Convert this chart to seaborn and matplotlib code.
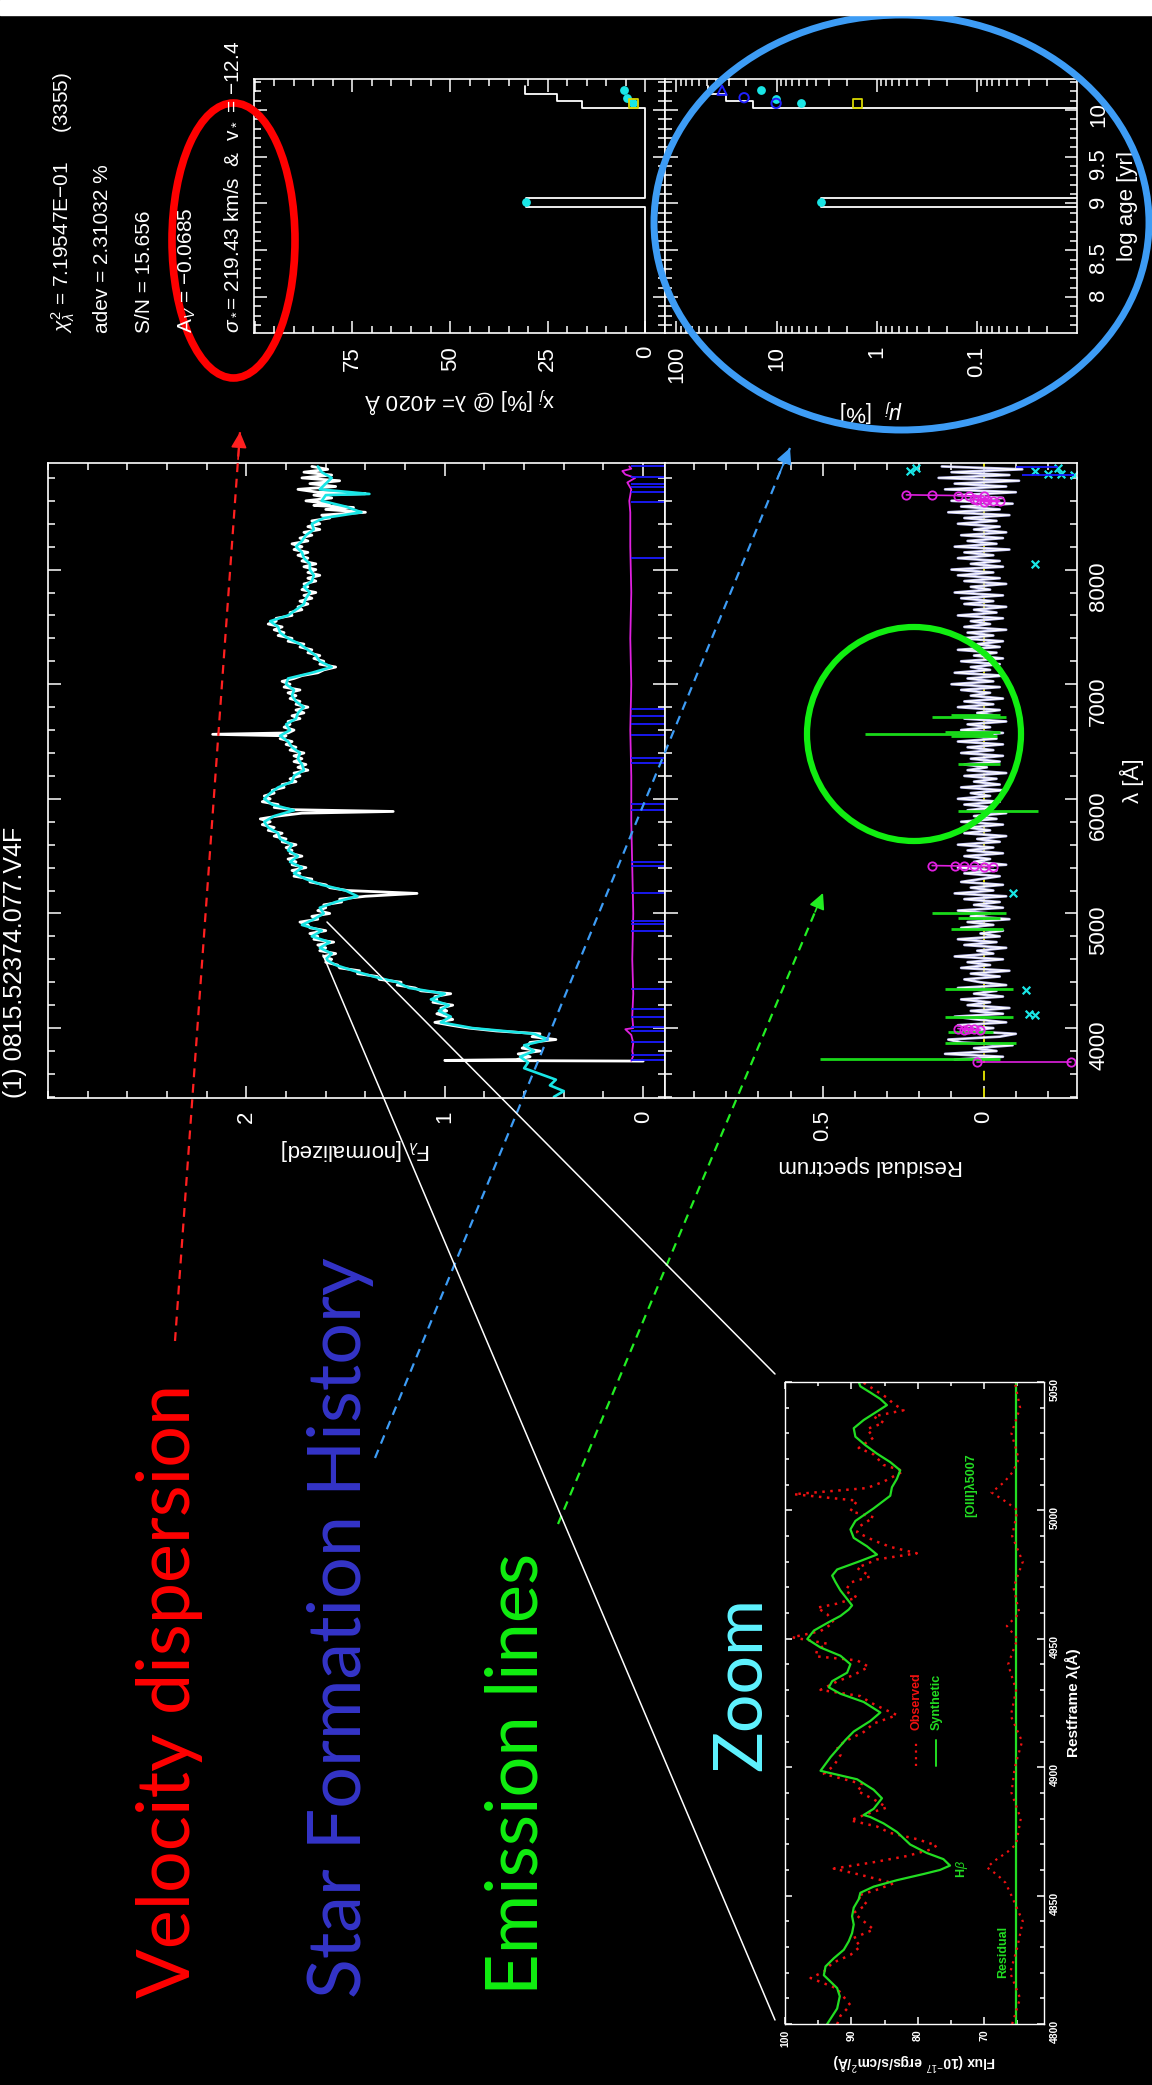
import matplotlib
matplotlib.use('Agg')
import matplotlib.pyplot as plt
import seaborn as sns
from matplotlib.patches import Ellipse, Rectangle
from matplotlib.ticker import MultipleLocator, FixedLocator, FuncFormatter, LogLocator, NullFormatter

# figure size in pixels (everything below is laid out in pixel units)
W, H = 1152, 2085

# ---------------- data ----------------
# synthetic (model) spectrum, cyan
model_pts = [(3400, 0.45), (3450, 0.40), (3500, 0.47), (3550, 0.44), (3600, 0.52), (3650, 0.60),
             (3700, 0.58), (3750, 0.62), (3800, 0.55), (3850, 0.60), (3900, 0.48), (3950, 0.55),
             (4000, 0.86), (4050, 1.02), (4100, 0.97), (4150, 1.03), (4200, 0.98), (4250, 1.07),
             (4300, 1.00), (4350, 1.18), (4400, 1.24), (4450, 1.36), (4500, 1.46), (4550, 1.55),
             (4600, 1.60), (4650, 1.57), (4700, 1.63), (4750, 1.58), (4800, 1.67), (4850, 1.62),
             (4900, 1.72), (4950, 1.66), (5000, 1.61), (5050, 1.63), (5100, 1.55), (5150, 1.44),
             (5200, 1.50), (5250, 1.62), (5300, 1.70), (5350, 1.76), (5400, 1.72), (5450, 1.78),
             (5500, 1.74), (5550, 1.79), (5600, 1.77), (5650, 1.83), (5700, 1.84), (5750, 1.89),
             (5800, 1.91), (5850, 1.86), (5900, 1.76), (5950, 1.87), (6000, 1.91), (6050, 1.88),
             (6100, 1.84), (6150, 1.77), (6200, 1.76), (6250, 1.71), (6300, 1.72), (6350, 1.74),
             (6400, 1.73), (6450, 1.77), (6500, 1.79), (6550, 1.83), (6600, 1.78), (6650, 1.80),
             (6700, 1.75), (6750, 1.74), (6800, 1.71), (6850, 1.75), (6900, 1.77), (6950, 1.76),
             (7000, 1.80), (7050, 1.79), (7100, 1.67), (7150, 1.57), (7200, 1.63), (7250, 1.65),
             (7300, 1.69), (7350, 1.73), (7400, 1.79), (7450, 1.83), (7500, 1.84), (7550, 1.88),
             (7600, 1.79), (7650, 1.75), (7700, 1.71), (7750, 1.70), (7800, 1.68), (7850, 1.71),
             (7900, 1.67), (7950, 1.66), (8000, 1.68), (8050, 1.68), (8100, 1.71), (8150, 1.72),
             (8200, 1.75), (8250, 1.72), (8300, 1.70), (8350, 1.66), (8400, 1.67), (8450, 1.61),
             (8500, 1.42), (8550, 1.50), (8600, 1.62), (8650, 1.60), (8660, 1.38), (8700, 1.63),
             (8750, 1.60), (8800, 1.57), (8850, 1.62), (8900, 1.64)]

# observed spectrum, white
obs_pts = [(3712, 0.00), (3718, 1.00), (3725, 0.64), (3750, 0.57), (3775, 0.63), (3800, 0.52),
           (3825, 0.61), (3850, 0.58), (3875, 0.57), (3900, 0.44), (3925, 0.56), (3950, 0.52),
           (3975, 0.74), (4000, 0.88), (4025, 0.97), (4050, 1.05), (4075, 0.96), (4100, 0.99),
           (4125, 1.04), (4150, 0.99), (4175, 1.02), (4200, 0.96), (4225, 1.06), (4250, 1.04),
           (4275, 1.05), (4300, 0.97), (4325, 1.12), (4350, 1.15), (4375, 1.24), (4400, 1.22),
           (4425, 1.33), (4450, 1.34), (4475, 1.44), (4500, 1.43), (4525, 1.53), (4550, 1.54),
           (4575, 1.60), (4600, 1.57), (4625, 1.61), (4650, 1.55), (4675, 1.63), (4700, 1.60),
           (4725, 1.64), (4750, 1.56), (4775, 1.66), (4800, 1.64), (4825, 1.68), (4850, 1.60),
           (4875, 1.68), (4900, 1.69), (4925, 1.73), (4950, 1.64), (4975, 1.67), (5000, 1.58),
           (5025, 1.64), (5050, 1.60), (5075, 1.61), (5100, 1.52), (5125, 1.53), (5150, 1.40),
           (5175, 1.14), (5200, 1.49), (5225, 1.58), (5250, 1.60), (5275, 1.68), (5300, 1.67),
           (5325, 1.76), (5350, 1.73), (5375, 1.77), (5400, 1.70), (5425, 1.77), (5450, 1.75),
           (5475, 1.79), (5500, 1.72), (5525, 1.78), (5550, 1.77), (5575, 1.80), (5600, 1.75),
           (5625, 1.82), (5650, 1.80), (5675, 1.86), (5700, 1.82), (5725, 1.89), (5750, 1.86),
           (5775, 1.92), (5800, 1.88), (5825, 1.93), (5850, 1.84), (5875, 1.72), (5890, 1.26),
           (5905, 1.76), (5925, 1.86), (5950, 1.84), (5975, 1.92), (6000, 1.88), (6025, 1.91),
           (6050, 1.86), (6075, 1.87), (6100, 1.81), (6125, 1.82), (6150, 1.75), (6175, 1.78),
           (6200, 1.73), (6225, 1.76), (6250, 1.69), (6275, 1.74), (6300, 1.70), (6325, 1.76),
           (6350, 1.72), (6375, 1.76), (6400, 1.71), (6425, 1.78), (6450, 1.75), (6475, 1.80),
           (6500, 1.77), (6525, 1.83), (6550, 1.80), (6563, 2.17), (6575, 1.79), (6600, 1.76),
           (6625, 1.81), (6650, 1.78), (6675, 1.79), (6700, 1.73), (6725, 1.77), (6750, 1.71),
           (6775, 1.75), (6800, 1.69), (6825, 1.75), (6850, 1.73), (6875, 1.78), (6900, 1.75),
           (6925, 1.79), (6950, 1.73), (6975, 1.81), (7000, 1.78), (7025, 1.82), (7050, 1.76),
           (7075, 1.72), (7100, 1.64), (7125, 1.61), (7150, 1.55), (7175, 1.63), (7200, 1.61),
           (7225, 1.66), (7250, 1.63), (7275, 1.69), (7300, 1.67), (7325, 1.73), (7350, 1.71),
           (7375, 1.79), (7400, 1.77), (7425, 1.84), (7450, 1.81), (7475, 1.86), (7500, 1.82),
           (7525, 1.89), (7550, 1.85), (7575, 1.85), (7600, 1.77), (7625, 1.78), (7650, 1.72),
           (7675, 1.74), (7700, 1.69), (7725, 1.73), (7750, 1.67), (7775, 1.71), (7800, 1.65),
           (7825, 1.72), (7850, 1.69), (7875, 1.71), (7900, 1.65), (7925, 1.69), (7950, 1.63),
           (7975, 1.69), (8000, 1.65), (8025, 1.71), (8050, 1.65), (8075, 1.72), (8100, 1.69),
           (8125, 1.74), (8150, 1.69), (8175, 1.76), (8200, 1.72), (8225, 1.77), (8250, 1.69),
           (8275, 1.73), (8300, 1.67), (8325, 1.71), (8350, 1.63), (8375, 1.69), (8400, 1.63),
           (8425, 1.67), (8450, 1.58), (8475, 1.62), (8500, 1.40), (8525, 1.60), (8542, 1.46),
           (8560, 1.66), (8575, 1.58), (8600, 1.70), (8625, 1.57), (8650, 1.66), (8662, 1.40),
           (8675, 1.64), (8700, 1.74), (8725, 1.55), (8750, 1.68), (8775, 1.53), (8800, 1.72),
           (8825, 1.57), (8850, 1.71), (8875, 1.59), (8900, 1.67)]

# error spectrum, magenta
err_pts = [(3714, 0.06), (3760, 0.05), (3800, 0.055), (3870, 0.05), (3940, 0.06), (3990, 0.09),
           (4000, 0.05), (4100, 0.055), (4300, 0.05), (4600, 0.055), (5000, 0.05), (5400, 0.055),
           (5800, 0.06), (6200, 0.06), (6600, 0.065), (7000, 0.06), (7400, 0.065), (7800, 0.06),
           (8200, 0.065), (8500, 0.065), (8600, 0.07), (8700, 0.06), (8760, 0.08), (8800, 0.04),
           (8830, 0.09), (8860, 0.105), (8880, 0.06), (8900, 0.07)]

# masked / flagged windows (blue ticks at the bottom of the flux panel)
mask_wave = [3718, 3762, 3877, 3978, 4007, 4094, 4166, 4340, 4846, 4904, 4933, 5179, 5411, 5450,
             5900, 5955, 6315, 6360, 6555, 6650, 6720, 6780, 8100, 8590, 8677, 8720, 8750, 8810, 8900]

# residual spectrum
resid_pts = [(3725, .09), (3750, -.06), (3775, .12), (3800, -.04), (3825, .03), (3850, -.09), (3875, .07), (3900, .11),
             (3925, -.05), (3950, -.10), (3975, .06), (4000, -.03), (4025, .08), (4050, -.07), (4075, .02), (4100, .09),
             (4125, -.06), (4150, .04), (4175, -.08), (4200, .05), (4225, -.02), (4250, .07), (4275, -.06), (4300, .03),
             (4325, -.04), (4350, .08), (4375, -.07), (4400, .01), (4425, .06), (4450, -.05), (4475, .04), (4500, -.08),
             (4525, .07), (4550, -.02), (4575, .05), (4600, -.06), (4625, .09), (4650, -.03), (4675, .02), (4700, -.07),
             (4725, .06), (4750, -.04), (4775, .08), (4800, -.05), (4825, .01), (4850, -.06), (4875, .07), (4900, -.03),
             (4925, .05), (4950, -.08), (4975, .04), (5000, -.02), (5025, .08), (5050, -.06), (5075, .03), (5100, -.05),
             (5125, .06), (5150, -.07), (5175, .09), (5200, -.03), (5225, .04), (5250, -.06), (5275, .07), (5300, .01),
             (5325, -.05), (5350, .06), (5375, -.04), (5400, .08), (5425, -.07), (5450, .03), (5475, -.02), (5500, .06),
             (5525, -.06), (5550, .05), (5575, -.03), (5600, .08), (5625, -.05), (5650, .02), (5675, -.07), (5700, .06),
             (5725, -.02), (5750, .05), (5775, -.06), (5800, .07), (5825, -.04), (5850, .03), (5875, -.07), (5900, .05),
             (5925, -.03), (5950, .06), (5975, -.05), (6000, .08), (6025, -.02), (6050, .04), (6075, -.06), (6100, .07),
             (6125, -.05), (6150, .03), (6175, -.04), (6200, .06), (6225, -.07), (6250, .05), (6275, -.01), (6300, .06),
             (6325, -.05), (6350, .04), (6375, -.06), (6400, .07), (6425, -.03), (6450, .05), (6475, -.06), (6500, .08),
             (6525, -.04), (6550, .03), (6575, -.06), (6600, .07), (6625, -.02), (6650, .05), (6675, -.07), (6700, .06),
             (6725, -.04), (6750, .02), (6775, -.05), (6800, .08), (6825, -.03), (6850, .06), (6875, -.06), (6900, .04),
             (6925, -.02), (6950, .07), (6975, -.05), (7000, .10), (7025, -.03), (7050, .05), (7075, -.06), (7100, .09),
             (7125, -.02), (7150, .04), (7175, -.05), (7200, .07), (7225, -.06), (7250, .03), (7275, -.04), (7300, .08),
             (7325, -.05), (7350, .02), (7375, -.06), (7400, .07), (7425, -.03), (7450, .05), (7475, -.07), (7500, .06),
             (7525, -.02), (7550, .04), (7575, -.06), (7600, .08), (7625, -.04), (7650, .03), (7675, -.07), (7700, .06),
             (7725, -.03), (7750, .07), (7775, -.06), (7800, .09), (7825, -.02), (7850, .04), (7875, -.07), (7900, .06),
             (7925, -.05), (7950, .08), (7975, -.03), (8000, .10), (8025, -.06), (8050, .04), (8075, -.05), (8100, .08),
             (8125, -.03), (8150, .06), (8175, -.08), (8200, .09), (8225, -.04), (8250, .05), (8275, -.06), (8300, .07),
             (8325, -.07), (8350, .03), (8375, -.05), (8400, .08), (8425, -.04), (8450, .06), (8475, -.08), (8500, .11),
             (8525, -.05), (8550, .07), (8575, -.09), (8600, .10), (8625, -.06), (8650, .08), (8675, -.10), (8700, .12),
             (8725, -.07), (8750, .09), (8775, -.11), (8800, .14), (8825, -.08), (8850, .10), (8875, -.12), (8900, .13)]

# emission-line residuals (green): wavelength, low, high
em_wave = [3727, 3870, 3970, 4101, 4340, 4861, 4959, 5007, 5890, 6300, 6548, 6563, 6584, 6716, 6731]
em_low = [-0.05, -0.10, -0.03, -0.09, -0.09, -0.06, -0.05, -0.07, -0.17, -0.05, -0.04, -0.03, -0.05, -0.07, -0.05]
em_high = [0.51, 0.12, 0.11, 0.12, 0.12, 0.10, 0.08, 0.16, 0.08, 0.08, 0.10, 0.37, 0.12, 0.16, 0.10]

# clipped pixels (magenta circles), grouped
clip_groups = [
    [(8652, 0.24), (8649, 0.16), (8646, 0.08), (8644, 0.044), (8641, 0.0)],
    [(8612, 0.03), (8608, -0.01), (8604, 0.02), (8600, -0.03), (8596, -0.05), (8592, 0.0)],
    [(5418, 0.16), (5415, 0.09), (5413, 0.06), (5411, 0.03), (5409, 0.0), (5407, -0.03)],
    [(3996, 0.08), (3993, 0.05), (3990, 0.03), (3987, 0.06), (3984, 0.01)],
    [(3705, 0.02), (3705, -0.27)],
]
# flagged pixels (cyan crosses)
flag_wave = [8890, 8890, 8860, 8858, 8832, 8830, 8828, 8050, 5180, 4330, 4120, 4115]
flag_res = [0.21, -0.23, 0.23, -0.16, -0.20, -0.24, -0.28, -0.16, -0.09, -0.13, -0.14, -0.16]
flag_line_wave = [8893, 8827]
flag_line_lo = [-0.23, -0.28]
flag_line_hi = [-0.10, -0.12]

# star formation history: bins in log age
age_edges = [7.61, 8.96, 9.06, 10.02, 10.10, 10.17, 10.25]
xj_vals = [0, 30.6, 0, 16.2, 22.7, 30.7]
mu_vals = [0.001, 3.6, 0.001, 17.2, 31.8, 48]
xj_dot_age = [9.02, 10.21, 10.13, 10.07]
xj_dot_val = [30.6, 5.5, 4.7, 3.1]
mu_dot_age = [9.02, 10.21, 10.12, 10.07]
mu_dot_val = [3.6, 14.3, 10.1, 5.7]
mu_circ_age = [10.13, 10.07]
mu_circ_val = [21.1, 10.1]
mu_tri_age, mu_tri_val = [10.21], [35]
sq_age = [10.07]
sq_xj, sq_mu = [3.1], [1.55]

# zoom panel around H-beta
syn_wave = [4800, 4806, 4810.8, 4814, 4819, 4822.4, 4825.6, 4828.9, 4832.2, 4835.4, 4838.7, 4842,
            4845.3, 4848.6, 4851.1, 4853.5, 4856, 4858.4, 4860, 4861.7, 4864.2, 4866.6, 4869.9,
            4874.8, 4878.1, 4880.6, 4881.4, 4883.8, 4887.9, 4891.2, 4895.3, 4898.6, 4903.9, 4910.6,
            4913.9, 4918, 4921.3, 4925.4, 4928.6, 4931.1, 4933.5, 4936.8, 4940.1, 4943.4, 4946.6,
            4949.9, 4953.2, 4956.5, 4958.9, 4961.4, 4963, 4965.5, 4968.8, 4972.1, 4974.6, 4977,
            4980.3, 4982.8, 4986, 4989.3, 4992.6, 4995.9, 5000.8, 5005.7, 5009, 5012.3, 5015.6,
            5018.8, 5022.1, 5025.4, 5028.7, 5032, 5035.2, 5038.5, 5041, 5043.4, 5045.9, 5048.3, 5050]
syn_flux = [93.65, 92.15, 91.75, 92.15, 94.15, 93.9, 92.65, 91.15, 90.4, 89.9, 89.65, 89.9,
            89.65, 88.9, 88.65, 86.65, 83.15, 79.15, 76.65, 75.15, 76.15, 78.65, 81.15,
            83.15, 85.15, 87.15, 88.15, 86.65, 85.4, 86.65, 89.15, 94.65, 93.15, 90.9,
            89.65, 87.15, 85.65, 88.15, 91.65, 93.4, 92.9, 90.65, 90.15, 91.65, 94.65,
            96.65, 95.65, 93.4, 91.65, 90.4, 89.9, 90.65, 91.65, 92.4, 92.9, 92.15,
            88.65, 86.15, 87.65, 89.65, 90.15, 89.4, 86.65, 84.15, 83.9, 83.15, 82.65,
            84.15, 86.15, 87.9, 89.4, 89.65, 88.15, 86.15, 84.65, 85.65, 87.15, 88.65, 88.9]
zobs_wave = [4799.9, 4803.2, 4807.3, 4809.7, 4813.8, 4817.9, 4820.4, 4823.7, 4826.9, 4830.2, 4833.5,
             4836.8, 4840.0, 4843.3, 4846.6, 4849.9, 4852.3, 4854.8, 4858.1, 4860.5, 4863.0, 4865.4,
             4867.9, 4869.5, 4872.0, 4874.4, 4876.9, 4879.3, 4881.8, 4884.3, 4887.5, 4890.8, 4893.3,
             4897.4, 4900.6, 4904.7, 4908.0, 4910.5, 4913.7, 4917.0, 4920.3, 4922.7, 4925.2, 4927.7,
             4930.1, 4933.4, 4935.9, 4939.1, 4941.6, 4943.2, 4945.7, 4948.1, 4950.6, 4953.0, 4956.3,
             4959.6, 4962.1, 4963.7, 4966.1, 4968.6, 4971.9, 4974.3, 4977.6, 4980.9, 4983.3, 4985.8,
             4988.3, 4991.5, 4994.0, 4997.3, 4999.7, 5003.8, 5006.3, 5008.7, 5011.2, 5015.3, 5017.7,
             5021.8, 5024.3, 5028.4, 5031.7, 5034.1, 5036.6, 5039.0, 5041.5, 5043.9, 5047.2, 5049.7]
zobs_flux = [92.15, 91.65, 90.15, 90.9, 92.15, 96.15, 94.15, 92.9, 90.15, 88.65, 89.65,
             86.65, 88.15, 89.65, 87.65, 89.15, 86.15, 83.65, 88.65, 92.65, 86.65, 81.65,
             78.15, 77.15, 80.15, 84.15, 86.15, 90.15, 87.65, 84.65, 86.65, 89.15, 88.15,
             94.15, 92.65, 91.65, 92.15, 90.65, 88.15, 86.65, 83.15, 85.15, 87.15, 88.65,
             94.65, 92.15, 89.65, 87.4, 89.15, 95.4, 95.15, 93.65, 98.9, 94.65, 92.65,
             93.65, 95.15, 92.15, 89.15, 90.9, 90.15, 87.15, 89.15, 86.15, 80.15, 84.15,
             86.65, 89.15, 88.65, 86.65, 90.15, 89.15, 98.65, 87.65, 85.15, 82.15, 85.15,
             86.65, 88.9, 86.65, 87.65, 85.15, 86.65, 82.15, 83.65, 84.65, 86.65, 88.15]
zres_wave = [4800, 4810, 4820, 4830, 4840, 4850, 4855, 4858, 4861, 4864, 4867, 4870, 4880, 4890,
             4900, 4910, 4920, 4930, 4940, 4950, 4955, 4960, 4970, 4980, 4990, 5000, 5003, 5007,
             5011, 5015, 5020, 5030, 5040, 5050]
zres_flux = [65.8, 64.6, 66.1, 65.0, 64.2, 65.9, 66.8, 68.0, 69.6, 68.2, 66.5, 65.2, 64.5, 65.9,
             65.4, 64.3, 66.0, 65.2, 66.4, 65.0, 66.6, 64.7, 65.6, 64.2, 65.8, 65.0, 66.5, 68.9,
             67.0, 65.7, 64.8, 65.9, 64.6, 65.4]
zres_level = 65.25

model_wave, model_flux = map(list, zip(*model_pts))
obs_wave, obs_flux = map(list, zip(*obs_pts))
err_wave, err_flux = map(list, zip(*err_pts))
resid_wave, resid_val = map(list, zip(*resid_pts))

# ---------------- style ----------------
sns.set_theme(style='dark', rc={'axes.facecolor': 'black', 'figure.facecolor': 'black',
                                'axes.grid': False, 'text.color': 'white',
                                'axes.labelcolor': 'white', 'xtick.color': 'white',
                                'ytick.color': 'white', 'axes.edgecolor': 'white'})
plt.rcParams['font.family'] = ['Liberation Sans', 'DejaVu Sans']
plt.rcParams['mathtext.fontset'] = 'custom'
plt.rcParams['mathtext.rm'] = 'Liberation Sans'
plt.rcParams['mathtext.it'] = 'Liberation Sans:italic'

CYAN = '#19e6e6'
TICK = 16

fig = plt.figure(figsize=(W / 100, H / 100), dpi=100)
fig.patch.set_facecolor('black')


def px_axes(x0, y0, x1, y1):
    return fig.add_axes([x0 / W, 1 - y1 / H, (x1 - x0) / W, (y1 - y0) / H])


def frame(ax, major=9, minor=5, lw=1.2):
    ax.set_facecolor('black')
    ax.grid(False)
    for s in ax.spines.values():
        s.set_visible(True)
        s.set_color('white')
        s.set_linewidth(lw)
    ax.tick_params(which='both', direction='in', colors='white', top=True, bottom=True,
                   left=True, right=True, width=1.1)
    ax.tick_params(which='major', length=major)
    ax.tick_params(which='minor', length=minor)


fmt_g = FuncFormatter(lambda v, p: '%g' % v)

# ---------------- flux panel ----------------
ax1 = px_axes(48, 463, 665, 1098)
frame(ax1)
ax1.plot(obs_flux, obs_wave, color='white', lw=2.0)
sns.lineplot(x=model_flux, y=model_wave, orient='y', sort=False, estimator=None,
             color=CYAN, lw=1.9, ax=ax1)
ax1.plot(err_flux, err_wave, color='#e020e0', lw=1.3)
ax1.hlines(mask_wave, -0.11, 0.06, color='#1a1aff', lw=1.3)
ax1.set_xlim(3.0, -0.11)
ax1.set_ylim(3390, 8930)
ax1.xaxis.set_major_locator(FixedLocator([0, 1, 2]))
ax1.xaxis.set_minor_locator(MultipleLocator(0.2))
ax1.xaxis.set_major_formatter(fmt_g)
ax1.yaxis.set_major_locator(MultipleLocator(1000))
ax1.yaxis.set_minor_locator(MultipleLocator(200))
ax1.tick_params(axis='x', labelrotation=90, labelsize=TICK, pad=9)
ax1.tick_params(axis='y', labelleft=False)
ax1.set_xlabel(r'F$_\lambda$ [normalized]', rotation=180, fontsize=TICK, labelpad=10)
ax1.set_ylabel('')

# ---------------- residual panel ----------------
ax2 = px_axes(665, 463, 1077, 1098)
frame(ax2)
ax2.axvline(0, color='#d8d800', lw=1.4, ls=(0, (5, 4)))
ax2.plot(resid_val, resid_wave, color='#c0c0f0', lw=1.9)
ax2.plot(resid_val, resid_wave, color='white', lw=0.8)
ax2.hlines(em_wave, em_low, em_high, color='#19d919', lw=2.0)
for grp in clip_groups:
    gw = [p[0] for p in grp]
    gr = [p[1] for p in grp]
    ax2.plot(gr, gw, color='#e020e0', lw=1.2, marker='o', ms=6, mfc='none', mew=1.3)
ax2.hlines(flag_line_wave, flag_line_lo, flag_line_hi, color='#1a1aff', lw=1.3)
sns.scatterplot(x=flag_res, y=flag_wave, marker='x', color=CYAN, s=30, linewidth=1.6, ax=ax2)
ax2.set_xlim(0.99, -0.29)
ax2.set_ylim(3390, 8930)
ax2.xaxis.set_major_locator(FixedLocator([0, 0.5]))
ax2.xaxis.set_minor_locator(MultipleLocator(0.1))
ax2.xaxis.set_major_formatter(fmt_g)
ax2.yaxis.set_major_locator(MultipleLocator(1000))
ax2.yaxis.set_minor_locator(MultipleLocator(200))
ax2.tick_params(axis='x', labelrotation=90, labelsize=TICK, pad=9)
ax2.tick_params(axis='y', labelleft=False, labelright=True, labelrotation=90, labelsize=TICK, pad=8)
ax2.yaxis.set_label_position('right')
ax2.set_ylabel('λ [Å]', rotation=90, fontsize=TICK, labelpad=8)
ax2.set_xlabel('Residual spectrum', rotation=180, fontsize=TICK, labelpad=10)


# ---------------- star formation history ----------------
def step_path(edges, vals):
    xs, ys = [], []
    for i, v in enumerate(vals):
        xs += [v, v]
        ys += [edges[i], edges[i + 1]]
    return xs, ys


ax3 = px_axes(253.5, 79, 665, 333.5)
frame(ax3)
sx, sy = step_path(age_edges, xj_vals)
ax3.plot(sx, sy, color='white', lw=1.3)
ax3.scatter(xj_dot_val, xj_dot_age, color=CYAN, s=28, zorder=5)
ax3.scatter(sq_xj, sq_age, marker='s', facecolors='none', edgecolors='#d8d800', s=40, lw=1.3, zorder=6)
ax3.set_xlim(100.3, -5)
ax3.set_ylim(7.61, 10.33)
ax3.xaxis.set_major_locator(FixedLocator([0, 25, 50, 75, 100]))
ax3.xaxis.set_minor_locator(MultipleLocator(5))
ax3.xaxis.set_major_formatter(FuncFormatter(lambda v, p: '' if v > 99 else '%g' % v))
ax3.yaxis.set_major_locator(MultipleLocator(0.5))
ax3.yaxis.set_minor_locator(MultipleLocator(0.1))
ax3.tick_params(axis='x', labelrotation=90, labelsize=TICK, pad=9)
ax3.tick_params(axis='y', labelleft=False)
ax3.set_xlabel('x$_j$ [%] @ λ= 4020 Å', rotation=180, fontsize=TICK, labelpad=10)

ax4 = px_axes(665, 79, 1077, 333.5)
frame(ax4)
ax4.set_xscale('log')
mx, my = step_path(age_edges, mu_vals)
ax4.plot(mx, my, color='white', lw=1.3)
ax4.scatter(mu_dot_val, mu_dot_age, color=CYAN, s=28, zorder=5)
ax4.scatter(mu_circ_val, mu_circ_age, marker='o', facecolors='none', edgecolors='#2020ff', s=45, lw=1.4, zorder=6)
ax4.scatter(mu_tri_val, mu_tri_age, marker='^', facecolors='none', edgecolors='#2020ff', s=45, lw=1.4, zorder=6)
ax4.scatter(sq_mu, sq_age, marker='s', facecolors='none', edgecolors='#d8d800', s=40, lw=1.3, zorder=6)
ax4.set_xlim(130, 0.01)
ax4.set_ylim(7.61, 10.33)
ax4.xaxis.set_major_locator(FixedLocator([100, 10, 1, 0.1]))
ax4.xaxis.set_minor_locator(LogLocator(base=10, subs=range(2, 10)))
ax4.xaxis.set_minor_formatter(NullFormatter())
ax4.xaxis.set_major_formatter(fmt_g)
ax4.yaxis.set_major_locator(MultipleLocator(0.5))
ax4.yaxis.set_minor_locator(MultipleLocator(0.1))
ax4.yaxis.set_major_formatter(fmt_g)
ax4.tick_params(axis='x', labelrotation=90, labelsize=TICK, pad=9)
ax4.tick_params(axis='y', labelleft=False, labelright=True, labelrotation=90, labelsize=TICK, pad=8)
ax4.yaxis.set_label_position('right')
ax4.set_ylabel('log age [yr]', rotation=90, fontsize=TICK, labelpad=6)
ax4.set_xlabel(r'$\mu_j$  [%]', rotation=180, fontsize=TICK, labelpad=10)

# ---------------- zoom panel ----------------
ax5 = px_axes(785, 1382, 1044, 2024)
frame(ax5, major=5, minor=3, lw=1.0)
ax5.plot(zobs_flux, zobs_wave, color='#ee1111', lw=1.8, ls=(0, (1, 2.2)))
sns.lineplot(x=syn_flux, y=syn_wave, orient='y', sort=False, estimator=None,
             color='#22dd22', lw=1.6, ax=ax5)
ax5.axvline(zres_level, color='#22dd22', lw=1.6)
ax5.plot(zres_flux, zres_wave, color='#ee1111', lw=1.6, ls=(0, (1, 2.2)))
ax5.set_xlim(100, 61)
ax5.set_ylim(4800, 5050)
ax5.xaxis.set_major_locator(FixedLocator([100, 90, 80, 70]))
ax5.xaxis.set_minor_locator(MultipleLocator(5))
ax5.yaxis.set_major_locator(MultipleLocator(50))
ax5.yaxis.set_minor_locator(MultipleLocator(10))
ax5.xaxis.set_major_formatter(fmt_g)
ax5.tick_params(axis='x', labelrotation=90, labelsize=7.5, pad=4)
ax5.tick_params(axis='y', labelleft=False, labelright=True, labelrotation=90, labelsize=7.5, pad=4)
plt.setp(ax5.get_xticklabels() + ax5.get_yticklabels(), fontweight='bold')
ax5.yaxis.set_label_position('right')
ax5.set_ylabel('Restframe λ(Å)', rotation=90, fontsize=11, fontweight='bold', labelpad=4)
ax5.set_xlabel('Flux (10$^{-17}$ ergs/s/cm$^2$/Å)', rotation=180, fontsize=10,
               fontweight='bold', labelpad=4)
ax5.text(80.2, 4914.6, 'Observed', rotation=90, ha='center', va='bottom', color='#ee1111',
         fontsize=9, fontweight='bold')
ax5.text(77.2, 4914.6, 'Synthetic', rotation=90, ha='center', va='bottom', color='#22dd22',
         fontsize=9, fontweight='bold')
ax5.plot([80.2, 80.2], [4900.5, 4910.6], color='#ee1111', lw=1.6, ls=(0, (1, 2)))
ax5.plot([77.2, 77.2], [4900.5, 4910.6], color='#22dd22', lw=1.4)
ax5.text(73.4, 4860.4, r'H$\beta$', rotation=90, ha='center', va='center', color='#22dd22',
         fontsize=9, fontweight='bold')
ax5.text(72.1, 5010, '[OIII]λ5007', rotation=90, ha='center', va='center', color='#22dd22',
         fontsize=9, fontweight='bold')
ax5.text(67.2, 4828, 'Residual', rotation=90, ha='center', va='center', color='#22dd22',
         fontsize=9, fontweight='bold')

# ---------------- overlay: annotations in pixel space ----------------
ov = fig.add_axes([0, 0, 1, 1])
ov.set_xlim(0, W)
ov.set_ylim(H, 0)
ov.axis('off')
ov.patch.set_visible(False)

ov.text(15, 1098, '(1) 0815.52374.077.V4F', rotation=90, ha='center', va='bottom',
        fontsize=18, color='white')
fit_lines = [(63, r'$\chi^2_\lambda$ = 7.19547E$-$01     (3355)'),
             (103, 'adev = 2.31032 %'),
             (145, 'S/N = 15.656'),
             (187, 'A$_V$ = $-$0.0685'),
             (230, r'$\sigma_*$= 219.43 km/s  &  v$_*$ = $-$12.4')]
for xpos, s in fit_lines:
    ov.text(xpos, 333, s, rotation=90, ha='center', va='bottom', fontsize=15, color='white')

# rings
ov.add_patch(Ellipse((233.5, 240.5), 123, 275, fill=False, ec='#ff0000', lw=5.5))
ov.add_patch(Ellipse((901.5, 222.5), 495, 415, fill=False, ec='#3d9cf5', lw=5))
ov.add_patch(Ellipse((914, 734), 214, 214, fill=False, ec='#11ee11', lw=4.5))

# dashed pointers
pointers = [((175, 1341), (240, 432), '#ff2020'),
            ((375, 1458), (790, 448), '#3d9cf5'),
            ((558, 1524), (823, 893), '#22ee22')]
for (x0, y0), (x1, y1), c in pointers:
    ov.plot([x0, x1], [y0, y1], color=c, lw=1.6, ls=(0, (4, 3)))
    ov.annotate('', xy=(x1, y1), xytext=(x1 - (x1 - x0) * 0.03, y1 - (y1 - y0) * 0.03),
                arrowprops=dict(arrowstyle='-|>', color=c, lw=1.2, mutation_scale=24,
                                shrinkA=0, shrinkB=0))

# zoom connectors
ov.plot([327, 775], [922, 1374], color='white', lw=1.1)
ov.plot([323, 775], [955, 2020], color='white', lw=1.1)

# big labels
ov.text(170, 1998, 'Velocity dispersion', rotation=90, ha='center', va='bottom',
        fontsize=53, color='#ff0000', family='Lato')
ov.text(340, 1998, 'Star Formation History', rotation=90, ha='center', va='bottom',
        fontsize=53, color='#3434c8', family='Lato')
ov.text(517, 1995, 'Emission lines', rotation=90, ha='center', va='bottom',
        fontsize=52, color='#11ee11', family='Lato')
ov.text(742, 1771, 'Zoom', rotation=90, ha='center', va='bottom',
        fontsize=49, color='#5ff3ff', family='Lato')

# thin white band along the top edge
ov.add_patch(Rectangle((0, 0), W, 15, color='white', zorder=20))

fig.savefig('out.png', dpi=100, facecolor='black')
